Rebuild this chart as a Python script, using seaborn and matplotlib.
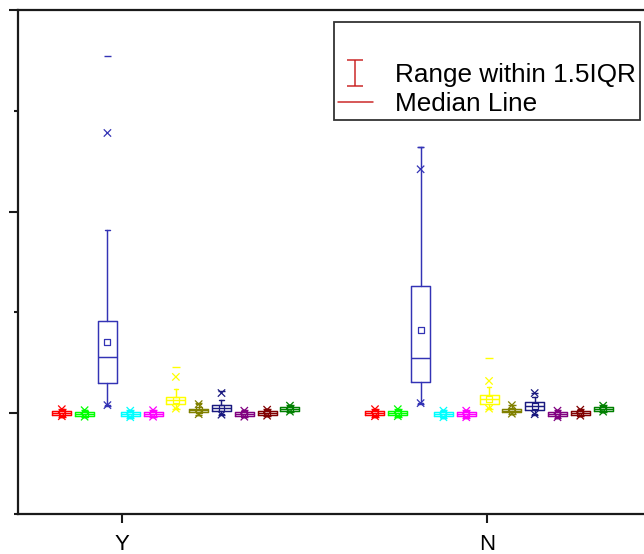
import numpy as np
import pandas as pd
import seaborn as sns
import matplotlib
matplotlib.use("Agg")
import matplotlib.pyplot as plt
from matplotlib.path import Path
from matplotlib.lines import Line2D

# ---------------- data ----------------
groups = ["Y", "N"]
series = ["Red", "Green", "Blue", "Cyan", "Magenta", "Yellow",
          "Dark Yellow", "Navy", "Purple", "Wine", "Olive"]
colors = ["#FF0000", "#00FF00", "#3333B5", "#00FFFF", "#FF00FF", "#FFFF00",
          "#808000", "#1A1A80", "#800080", "#800000", "#008000"]

# each stat: [values for group Y], [values for group N]
q1 = [[-0.20, -0.25, 3.00, -0.30, -0.25, 0.96, 0.15, 0.20, -0.30, -0.15, 0.25],
      [-0.20, -0.20, 3.07, -0.30, -0.30, 0.96, 0.10, 0.35, -0.30, -0.15, 0.25]]
med = [[0.05, -0.05, 5.60, -0.10, -0.05, 1.30, 0.30, 0.50, -0.10, 0.05, 0.45],
       [0.05, 0.05, 5.50, -0.10, -0.10, 1.38, 0.25, 0.70, -0.10, 0.05, 0.45]]
q3 = [[0.25, 0.15, 9.15, 0.10, 0.15, 1.60, 0.45, 0.80, 0.10, 0.25, 0.65],
      [0.25, 0.25, 12.65, 0.10, 0.10, 1.80, 0.40, 1.10, 0.10, 0.25, 0.65]]
mean = [[0.05, -0.05, 7.10, -0.10, -0.05, 1.35, 0.30, 0.55, -0.10, 0.05, 0.45],
        [0.05, 0.05, 8.25, -0.10, -0.10, 1.40, 0.25, 0.75, -0.10, 0.05, 0.45]]
whislo = [[-0.35, -0.40, 0.80, -0.45, -0.40, 0.50, -0.15, -0.05, -0.40, -0.30, 0.10],
          [-0.35, -0.35, 1.00, -0.45, -0.45, 0.50, -0.10, -0.10, -0.45, -0.30, 0.10]]
whishi = [[0.45, 0.35, 18.20, 0.30, 0.35, 2.45, 0.95, 1.30, 0.30, 0.40, 0.80],
          [0.45, 0.45, 26.40, 0.30, 0.30, 2.60, 0.85, 1.60, 0.30, 0.40, 0.80]]
p1 = [[-0.30, -0.35, 0.80, -0.40, -0.35, 0.45, -0.10, -0.15, -0.35, -0.25, 0.15],
      [-0.30, -0.30, 1.00, -0.40, -0.40, 0.45, -0.05, -0.10, -0.40, -0.25, 0.15]]
p99 = [[0.40, 0.30, 27.80, 0.25, 0.30, 3.60, 0.90, 2.00, 0.25, 0.35, 0.75],
       [0.40, 0.40, 24.20, 0.25, 0.25, 3.20, 0.80, 2.00, 0.25, 0.35, 0.75]]
vmin = [[-0.35, -0.40, 0.75, -0.45, -0.40, 0.40, -0.20, -0.20, -0.40, -0.30, 0.10],
        [-0.35, -0.35, 0.95, -0.45, -0.45, 0.40, -0.10, -0.15, -0.45, -0.30, 0.10]]
vmax = [[0.45, 0.35, 35.40, 0.30, 0.35, 4.60, 1.00, 2.20, 0.30, 0.40, 0.80],
        [0.45, 0.45, 26.40, 0.30, 0.30, 5.50, 0.85, 2.05, 0.30, 0.40, 0.80]]

# ---------------- layout ----------------
slot = 0.0625            # distance between neighbouring boxes (x units)
first_offset = [-0.165, -0.307]   # first box offset from group tick
box_w = 0.052
cap_w = 0.012

sns.set_theme(style="ticks")
plt.rcParams["font.family"] = ["Liberation Sans", "DejaVu Sans"]
plt.rcParams["text.color"] = "black"

fig = plt.figure(figsize=(6.44, 5.54), dpi=100)
ax = fig.add_axes([18 / 644, 1 - 514 / 554, 1 - 18 / 644, (514 - 10) / 554])

rows = []
for gi, g in enumerate(groups):
    for si, s in enumerate(series):
        x = gi + first_offset[gi] + si * slot
        st = dict(med=med[gi][si], q1=q1[gi][si], q3=q3[gi][si],
                  whislo=whislo[gi][si], whishi=whishi[gi][si], fliers=[])
        c = colors[si]
        lp = dict(color=c, linewidth=1.05)
        ax.bxp([st], positions=[x], widths=box_w, capwidths=cap_w,
               showfliers=False, manage_ticks=False,
               boxprops=lp, whiskerprops=lp, capprops=lp, medianprops=lp)
        rows.append(dict(x=x, series=s, mean=mean[gi][si], p1=p1[gi][si],
                         p99=p99[gi][si], vmin=vmin[gi][si], vmax=vmax[gi][si]))

df = pd.DataFrame(rows)
pal = dict(zip(series, colors))

pct = df.melt(id_vars=["x", "series"], value_vars=["p1", "p99"], value_name="v")
sns.scatterplot(data=pct, x="x", y="v", hue="series", palette=pal, hue_order=series,
                marker="x", s=28, linewidth=0.9, legend=False, ax=ax, zorder=4)
ext = df.melt(id_vars=["x", "series"], value_vars=["vmin", "vmax"], value_name="v")
sns.scatterplot(data=ext, x="x", y="v", hue="series", palette=pal, hue_order=series,
                marker="_", s=30, linewidth=1.0, legend=False, ax=ax, zorder=4)
for s, c in zip(series, colors):
    sub = df[df["series"] == s]
    sns.scatterplot(data=sub, x="x", y="mean", marker="s", s=18,
                    facecolor="none", edgecolor=c, linewidth=0.9,
                    legend=False, ax=ax, zorder=5)

# ---------------- axes styling ----------------
ax.set_xlim(-0.285, 1.43)
ax.set_ylim(-10, 40)
ax.set_yticks([0, 20, 40])
ax.set_yticks([-10, 10, 30], minor=True)
ax.set_xticks([0, 1])
ax.set_xticklabels(groups, fontsize=16)
ax.set_xlabel("")
ax.set_ylabel("")
ax.tick_params(axis="y", which="major", length=6.5, width=1.5, color="#1a1a1a",
               labelleft=False)
ax.tick_params(axis="y", which="minor", length=3, width=1.5, color="#1a1a1a")
ax.tick_params(axis="x", which="major", length=6.5, width=1.5, color="#1a1a1a",
               pad=8, labelcolor="black")
for side in ["left", "top", "bottom"]:
    ax.spines[side].set_visible(True)
    ax.spines[side].set_linewidth(1.6)
    ax.spines[side].set_color("#1a1a1a")
ax.spines["right"].set_visible(False)
ax.grid(False)

# ---------------- legend ----------------
ibar = Path([(-0.6, 1), (0.6, 1), (0, 1), (0, -1), (-0.6, -1), (0.6, -1)],
            [Path.MOVETO, Path.LINETO, Path.MOVETO, Path.LINETO, Path.MOVETO, Path.LINETO])
leg_col = "#CC2A2A"
handles = [Line2D([], [], linestyle="none", label=" "),
           Line2D([], [], linestyle="none", marker=ibar, markersize=19,
                  markeredgewidth=1.1, color=leg_col, label="Range within 1.5IQR"),
           Line2D([], [], linestyle="-", linewidth=1.1, color=leg_col, label="Median Line")]
leg = ax.legend(handles=handles, loc="upper right",
                bbox_to_anchor=(640 / 644, 1 - 22 / 554), bbox_transform=fig.transFigure,
                fontsize=18.8, frameon=True, fancybox=False, framealpha=1,
                edgecolor="#333333", borderaxespad=0, borderpad=0.15,
                labelspacing=0.22, handlelength=1.35, handletextpad=0.85)
leg.get_frame().set_linewidth(1.3)
leg.get_texts()[0].set_fontsize(23.7)
for t in leg.get_texts():
    t.set_color("black")

fig.savefig("out.png", dpi=100)
